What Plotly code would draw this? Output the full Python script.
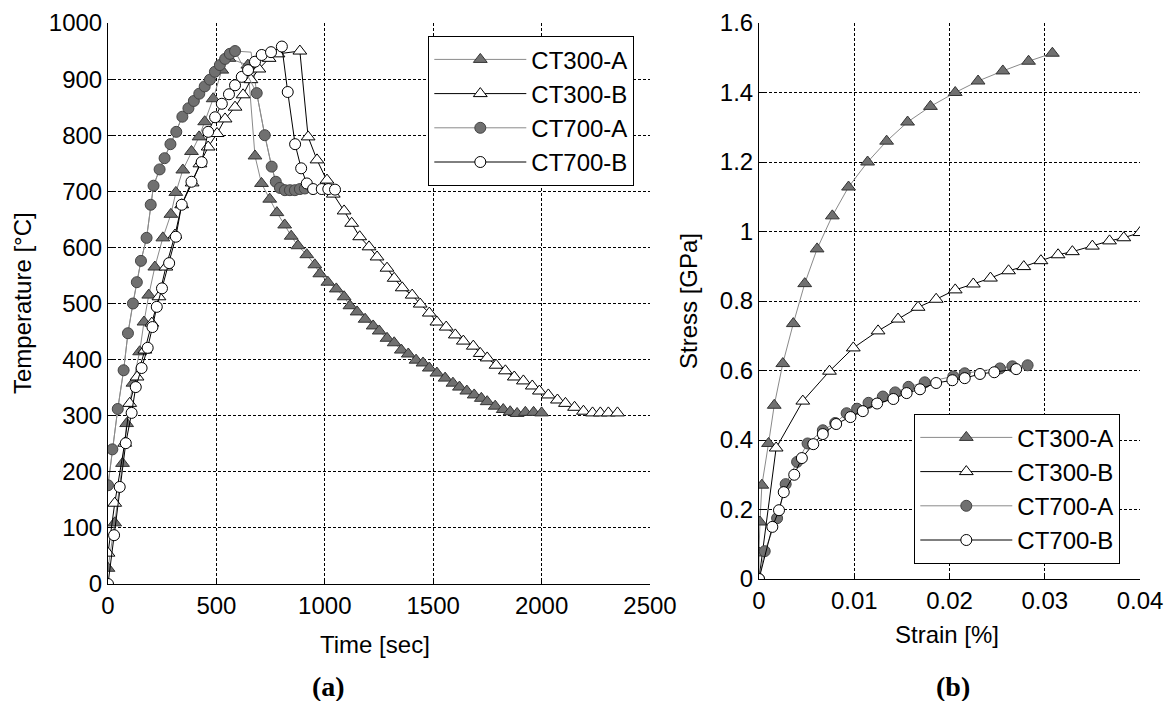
import plotly.graph_objects as go

# ---------------- (a) Temperature history ----------------
time_ct300a = [0, 31, 67, 86, 115, 146, 166, 188, 216, 253, 290, 313, 345, 385, 420, 446, 485, 525, 558,
               645, 678, 708, 746, 779, 815, 845, 876, 917, 954, 977, 1014, 1053, 1089, 1116, 1149, 1186,
               1223, 1251, 1287, 1320, 1353, 1385, 1421, 1453, 1482, 1517, 1555, 1591, 1621, 1655, 1689,
               1722, 1749, 1786, 1823, 1855, 1887, 1925, 1963, 2000]
temp_ct300a = [28, 109, 215, 286, 358, 414, 467, 515, 565, 617, 659, 698, 738, 771, 797, 824, 865, 916, 937,
               925, 763, 714, 686, 662, 640, 620, 603, 587, 569, 553, 538, 526, 512, 496, 485, 472,
               460, 451, 438, 430, 417, 410, 399, 394, 385, 376, 367, 358, 351, 344, 337,
               331, 325, 317, 311, 307, 304, 306, 306, 305]

time_ct300b = [0, 31, 77, 100, 134, 170, 202, 235, 267, 309, 340, 388, 424, 462, 503, 540, 586, 623, 659,
               696, 743, 784, 885, 923, 964, 1010, 1039, 1089, 1124, 1161, 1204, 1241, 1287, 1320, 1357,
               1403, 1440, 1482, 1517, 1560, 1602, 1639, 1685, 1717, 1749, 1790, 1833, 1874, 1916, 1957,
               1990, 2031, 2073, 2110, 2152, 2193, 2235, 2271, 2308, 2350]
temp_ct300b = [55, 144, 251, 322, 369, 417, 465, 512, 565, 622, 676, 715, 749, 779, 803, 829, 850, 872, 899,
               918, 937, 945, 950, 797, 756, 720, 695, 665, 643, 619, 601, 583, 563, 545, 528,
               515, 499, 483, 467, 458, 444, 433, 424, 411, 403, 390, 380, 369, 362, 353,
               344, 337, 328, 322, 315, 308, 305, 305, 305, 305]

time_ct700a = [0, 20, 45, 72, 92, 115, 133, 152, 178, 197, 210, 238, 261, 288, 315, 343, 371, 396, 421,
               446, 470, 493, 516, 540, 562, 586, 686, 723, 755, 774, 793, 816, 839, 862, 885, 908]
temp_ct700a = [176, 240, 312, 381, 447, 500, 538, 576, 617, 676, 710, 739, 759, 784, 806, 833, 848, 861, 874,
               887, 899, 913, 925, 936, 945, 950, 875, 800, 744, 717, 706, 702, 702, 702, 704, 705]
# peak plateau vertex of the CT700-A trace (line only, no marker)
time_ct700a_plateau = [660]
temp_ct700a_plateau = [948]

time_ct700b = [0, 28, 54, 82, 109, 128, 155, 183, 205, 225, 249, 282, 313, 340, 385, 432, 462, 494, 525,
               558, 586, 617, 646, 678, 709, 752, 802, 829, 863, 891, 917, 946, 986, 1016, 1047]
temp_ct700b = [0, 87, 173, 251, 305, 351, 385, 421, 458, 494, 527, 572, 619, 676, 717, 752, 806, 832, 856,
               873, 889, 904, 916, 931, 943, 948, 958, 877, 784, 741, 714, 704, 704, 704, 703]

# ---------------- (b) Stress-strain ----------------
strain_ct300a = [0, 0, 0.0001, 0.0003, 0.001, 0.0016, 0.0025, 0.0036, 0.0048, 0.0061, 0.0077, 0.0094,
                 0.0114, 0.0134, 0.0156, 0.018, 0.0206, 0.023, 0.0256, 0.0283, 0.0308]
stress_ct300a = [0, 0.075, 0.164, 0.27, 0.39, 0.50, 0.62, 0.735, 0.85, 0.95, 1.045, 1.128,
                 1.20, 1.26, 1.315, 1.36, 1.40, 1.433, 1.462, 1.49, 1.513]

strain_ct300b = [0, 0.0018, 0.0046, 0.0074, 0.0099, 0.0125, 0.0146, 0.0167, 0.0186, 0.0206, 0.0225,
                 0.0243, 0.0262, 0.0278, 0.0296, 0.0314, 0.0329, 0.035, 0.0368, 0.0383, 0.040]
stress_ct300b = [0, 0.377, 0.512, 0.598, 0.665, 0.714, 0.748, 0.782, 0.805, 0.832, 0.849,
                 0.866, 0.887, 0.899, 0.916, 0.933, 0.942, 0.958, 0.973, 0.982, 0.997]

strain_ct700a = [0, 0.0006, 0.0019, 0.0028, 0.004, 0.0051, 0.0067, 0.008, 0.0092, 0.0103, 0.0115, 0.013,
                 0.0143, 0.0157, 0.0174, 0.0204, 0.0216, 0.0253, 0.0266, 0.0282]
stress_ct700a = [0, 0.08, 0.175, 0.273, 0.337, 0.39, 0.428, 0.449, 0.477, 0.49, 0.507, 0.525,
                 0.537, 0.553, 0.566, 0.583, 0.592, 0.606, 0.612, 0.615]

strain_ct700b = [0, 0.0014, 0.0021, 0.0026, 0.0037, 0.0045, 0.0057, 0.0067, 0.0081, 0.0096, 0.0109,
                 0.0124, 0.0141, 0.0155, 0.0169, 0.0186, 0.0203, 0.0216, 0.0232, 0.0247, 0.027]
stress_ct700b = [0, 0.15, 0.198, 0.25, 0.30, 0.348, 0.388, 0.417, 0.446, 0.466, 0.483,
                 0.505, 0.518, 0.535, 0.546, 0.564, 0.572, 0.578, 0.59, 0.595, 0.604]

series_names = ["CT300-A", "CT300-B", "CT700-A", "CT700-B"]

W, H = 1169, 701
GRAY_LINE = "#8a8a8a"
GRAY_FILL = "#707070"
FONT = "Liberation Sans, Arial, sans-serif"
SERIF = "Liberation Serif, Times New Roman, serif"

styles = {
    "CT300-A": dict(line=GRAY_LINE, symbol="triangle-up", size=12, fill=GRAY_FILL, edge="#333333"),
    "CT300-B": dict(line="black", symbol="triangle-up", size=12, fill="white", edge="black"),
    "CT700-A": dict(line=GRAY_LINE, symbol="circle", size=11, fill=GRAY_FILL, edge="#444444"),
    "CT700-B": dict(line="black", symbol="circle", size=11, fill="white", edge="black"),
}

left_data = {
    "CT300-A": (time_ct300a, temp_ct300a),
    "CT300-B": (time_ct300b, temp_ct300b),
    "CT700-A": (time_ct700a, temp_ct700a),
    "CT700-B": (time_ct700b, temp_ct700b),
}
right_data = {
    "CT300-A": (strain_ct300a, stress_ct300a),
    "CT300-B": (strain_ct300b, stress_ct300b),
    "CT700-A": (strain_ct700a, stress_ct700a),
    "CT700-B": (strain_ct700b, stress_ct700b),
}

fig = go.Figure()

# line-only path for CT700-A including the plateau vertex
pts = sorted(list(zip(time_ct700a, temp_ct700a)) + list(zip(time_ct700a_plateau, temp_ct700a_plateau)))
fig.add_trace(go.Scatter(x=[p[0] for p in pts], y=[p[1] for p in pts], mode="lines",
                         line=dict(color=GRAY_LINE, width=1), showlegend=False, hoverinfo="skip",
                         xaxis="x", yaxis="y"))

for name in series_names:
    s = styles[name]
    x, y = left_data[name]
    fig.add_trace(go.Scatter(
        x=x, y=y, name=name, mode="lines+markers", xaxis="x", yaxis="y",
        line=dict(color=s["line"], width=1),
        marker=dict(symbol=s["symbol"], size=s["size"], color=s["fill"],
                    line=dict(color=s["edge"], width=1)),
        legend="legend", legendgroup="L" + name))
for name in series_names:
    s = styles[name]
    x, y = right_data[name]
    fig.add_trace(go.Scatter(
        x=x, y=y, name=name, mode="lines+markers", xaxis="x2", yaxis="y2",
        line=dict(color=s["line"], width=1),
        marker=dict(symbol=s["symbol"], size=s["size"], color=s["fill"],
                    line=dict(color=s["edge"], width=1)),
        legend="legend2", legendgroup="R" + name))

axis_common = dict(
    showgrid=True, gridcolor="black", gridwidth=1, griddash="3px,2px",
    zeroline=False, showline=True, linecolor="black", linewidth=1,
    ticks="inside", ticklen=5, tickcolor="black", mirror=False,
    tickfont=dict(family=FONT, size=24, color="black"), automargin=False,
)

legend_common = dict(xanchor="left", yanchor="top", bgcolor="white", bordercolor="black",
                     borderwidth=1.3, font=dict(family=FONT, size=24, color="black"),
                     itemwidth=92, tracegroupgap=8, traceorder="normal")


def label(text, x, y, angle=0, size=24, family=FONT):
    return dict(text=text, x=x / W, y=(H - y) / H, xref="paper", yref="paper",
                xanchor="center", yanchor="middle", textangle=angle, showarrow=False,
                font=dict(family=family, size=size, color="black"))


fig.update_layout(
    width=W, height=H, template="none",
    paper_bgcolor="white", plot_bgcolor="white",
    margin=dict(l=0, r=0, t=0, b=0),
    hovermode=False,
    xaxis=dict(domain=[108 / W, 650 / W], range=[0, 2500], tickvals=[0, 500, 1000, 1500, 2000, 2500],
               anchor="y", **axis_common),
    yaxis=dict(domain=[(H - 584) / H, (H - 23) / H], range=[0, 1000],
               tickvals=[0, 100, 200, 300, 400, 500, 600, 700, 800, 900, 1000], anchor="x", **axis_common),
    xaxis2=dict(domain=[759 / W, 1140 / W], range=[0, 0.04], tickvals=[0, 0.01, 0.02, 0.03, 0.04],
                anchor="y2", **axis_common),
    yaxis2=dict(domain=[(H - 579) / H, (H - 23) / H], range=[0, 1.6],
                tickvals=[0, 0.2, 0.4, 0.6, 0.8, 1, 1.2, 1.4, 1.6], anchor="x2", **axis_common),
    legend=dict(x=428 / W, y=(H - 36) / H, **legend_common),
    legend2=dict(x=914 / W, y=(H - 414) / H, **legend_common),
    annotations=[
        label("Temperature [°C]", 22, 303, angle=-90),
        label("Time [sec]", 375, 644),
        label("Stress [GPa]", 688, 301, angle=-90),
        label("Strain [%]", 947, 634),
        label("<b>(a)</b>", 328, 686, size=28, family=SERIF),
        label("<b>(b)</b>", 953, 686, size=28, family=SERIF),
    ],
)

fig.write_html("out.html", config={"displayModeBar": False},
               post_script="document.body.style.margin='0px';")
